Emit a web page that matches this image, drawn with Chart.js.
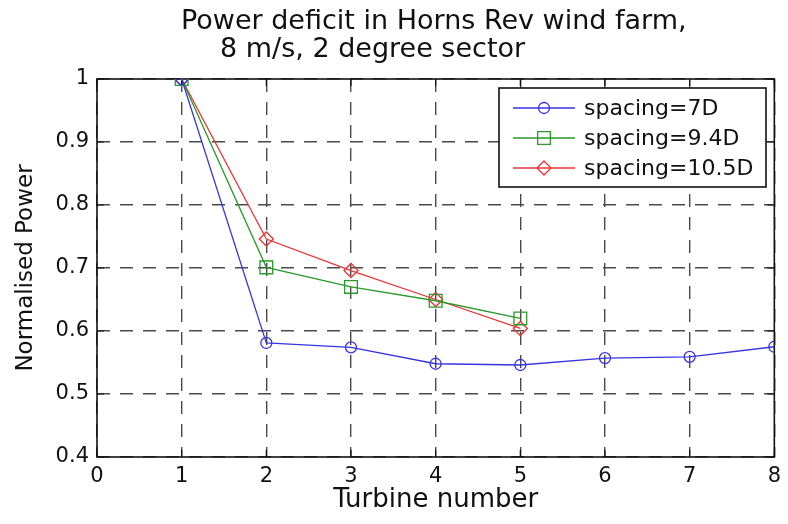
<!DOCTYPE html>
<html>
<head>
<meta charset="utf-8">
<script src="https://cdn.jsdelivr.net/npm/chart.js@4"></script>
<style>
  html, body { margin: 0; padding: 0; background: #fff; }
  #wrap { width: 788px; height: 524px; }
</style>
</head>
<body>
<div id="wrap"><canvas id="powerChart" width="788" height="524"></canvas></div>
<script>
// Normalised power per turbine along the row
const turbines = [1, 2, 3, 4, 5, 6, 7, 8];
const spacing7D = [1.0, 0.581, 0.574, 0.548, 0.546, 0.557, 0.559, 0.575];
const spacing94D = [1.0, 0.701, 0.670, 0.648, 0.620];
const spacing105D = [1.0, 0.746, 0.696, 0.650, 0.604];
const seriesLabels = ['spacing=7D', 'spacing=9.4D', 'spacing=10.5D'];
const titleLines = ['Power deficit in Horns Rev wind farm,', '8 m/s, 2 degree sector'];

const FONT = 'DejaVu Sans';
const INK = '#111';

function points(values) {
    return values.map((v, i) => ({ x: turbines[i], y: v }));
}

function marker(ctx, style, r, x, y) {
    ctx.beginPath();
    if (style === 'circle') {
        ctx.arc(x, y, r, 0, Math.PI * 2);
    } else if (style === 'rect') {
        const s = r * Math.SQRT1_2;
        ctx.rect(x - s, y - s, 2 * s, 2 * s);
    } else {
        ctx.moveTo(x - r, y);
        ctx.lineTo(x, y - r);
        ctx.lineTo(x + r, y);
        ctx.lineTo(x, y + r);
        ctx.closePath();
    }
    ctx.stroke();
}

// box around the axes plus inward tick marks
const axesBox = {
    id: 'axesBox',
    beforeDatasetsDraw(chart) {
        const { ctx, chartArea: a, scales: { x, y } } = chart;
        ctx.save();
        ctx.strokeStyle = INK;
        ctx.lineWidth = 1.6;
        ctx.strokeRect(a.left, a.top, a.right - a.left, a.bottom - a.top);
        ctx.lineWidth = 1.2;
        ctx.beginPath();
        x.ticks.forEach(t => {
            const px = x.getPixelForValue(t.value);
            ctx.moveTo(px, a.bottom); ctx.lineTo(px, a.bottom - 7);
            ctx.moveTo(px, a.top); ctx.lineTo(px, a.top + 7);
        });
        y.ticks.forEach(t => {
            const py = y.getPixelForValue(t.value);
            ctx.moveTo(a.left, py); ctx.lineTo(a.left + 7, py);
            ctx.moveTo(a.right, py); ctx.lineTo(a.right - 7, py);
        });
        ctx.stroke();
        ctx.restore();
    }
};

// legend box in the upper right corner, line + marker + label
const lineLegend = {
    id: 'lineLegend',
    afterDatasetsDraw(chart) {
        const { ctx } = chart;
        const box = { left: 499, top: 88, right: 766, bottom: 187 };
        ctx.save();
        ctx.fillStyle = '#fff';
        ctx.fillRect(box.left, box.top, box.right - box.left, box.bottom - box.top);
        ctx.strokeStyle = INK;
        ctx.lineWidth = 1.6;
        ctx.strokeRect(box.left, box.top, box.right - box.left, box.bottom - box.top);
        ctx.font = '22px "' + FONT + '"';
        ctx.textBaseline = 'middle';
        ctx.textAlign = 'left';
        chart.data.datasets.forEach((ds, i) => {
            const cy = 108 + i * 30;
            ctx.strokeStyle = ds.borderColor;
            ctx.lineWidth = ds.borderWidth;
            ctx.beginPath();
            ctx.moveTo(513, cy);
            ctx.lineTo(575, cy);
            ctx.stroke();
            ctx.lineWidth = ds.pointBorderWidth;
            marker(ctx, ds.pointStyle, ds.pointRadius, 544, cy);
            ctx.fillStyle = INK;
            ctx.fillText(ds.label, 584, cy + 1);
        });
        ctx.restore();
    }
};

// two-line title, second line indented
const plotTitle = {
    id: 'plotTitle',
    afterDraw(chart) {
        const { ctx } = chart;
        ctx.save();
        ctx.fillStyle = INK;
        ctx.font = '27px "' + FONT + '"';
        ctx.textAlign = 'left';
        ctx.textBaseline = 'alphabetic';
        ctx.fillText(titleLines[0], 181, 29);
        ctx.fillText(titleLines[1], 220, 57);
        ctx.restore();
    }
};

const gridStyle = {
    color: '#4a4a4a',
    lineWidth: 1.4,
    drawTicks: false
};

new Chart(document.getElementById('powerChart'), {
    type: 'line',
    data: {
        datasets: [{
            label: seriesLabels[0],
            data: points(spacing7D),
            borderColor: '#3535e0',
            pointStyle: 'circle',
            pointRadius: 5.5
        }, {
            label: seriesLabels[1],
            data: points(spacing94D),
            borderColor: '#2a9a2a',
            pointStyle: 'rect',
            pointRadius: 9
        }, {
            label: seriesLabels[2],
            data: points(spacing105D),
            borderColor: '#e83535',
            pointStyle: 'rectRot',
            pointRadius: 7
        }].map(ds => Object.assign(ds, {
            borderWidth: 1.3,
            pointBorderWidth: 1.3,
            pointBorderColor: ds.borderColor,
            pointBackgroundColor: 'rgba(0,0,0,0)',
            pointHoverRadius: ds.pointRadius,
            tension: 0,
            fill: false
        }))
    },
    options: {
        responsive: false,
        devicePixelRatio: 1,
        animation: false,
        layout: { padding: { top: 79, right: 7, left: 0, bottom: 0 } },
        plugins: {
            legend: { display: false },
            title: { display: false },
            tooltip: { enabled: false }
        },
        scales: {
            x: {
                type: 'linear',
                min: 0,
                max: 8,
                afterFit(scale) { scale.height = 67; },
                border: { display: false, dash: [13, 10] },
                grid: gridStyle,
                ticks: {
                    stepSize: 1,
                    color: INK,
                    padding: 7,
                    font: { family: FONT, size: 21 }
                },
                title: {
                    display: true,
                    text: 'Turbine number',
                    color: INK,
                    font: { family: FONT, size: 26 },
                    padding: { top: 0, bottom: 8 }
                }
            },
            y: {
                min: 0.4,
                max: 1,
                afterFit(scale) { scale.width = 97; },
                border: { display: false, dash: [13, 10] },
                grid: gridStyle,
                ticks: {
                    stepSize: 0.1,
                    color: INK,
                    padding: 8,
                    font: { family: FONT, size: 21 },
                    callback: v => String(+v.toFixed(1))
                },
                title: {
                    display: true,
                    text: 'Normalised Power',
                    color: INK,
                    font: { family: FONT, size: 23 },
                    padding: { top: 12, bottom: 0 }
                }
            }
        }
    },
    plugins: [axesBox, lineLegend, plotTitle]
});
</script>
</body>
</html>
